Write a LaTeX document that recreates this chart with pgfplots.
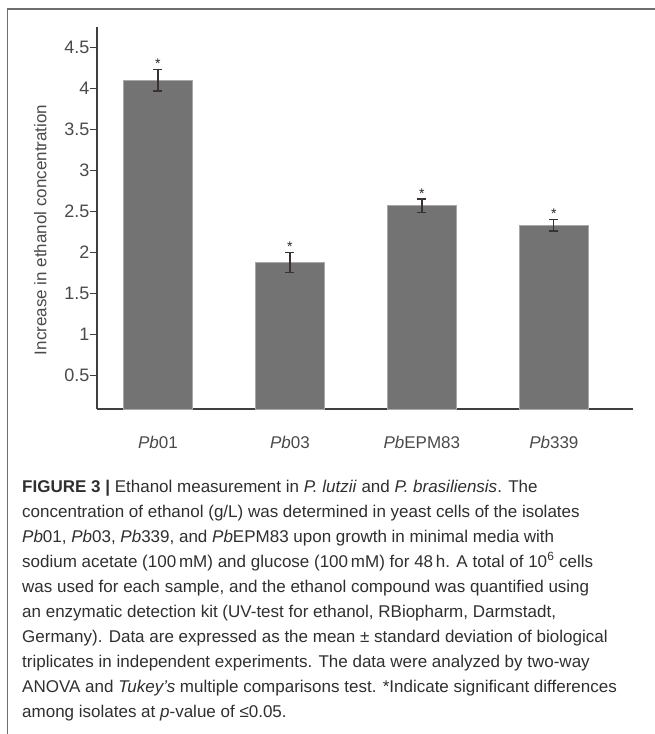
\documentclass[border=0pt]{standalone}
\usepackage{fontspec}
\setmainfont{Liberation Sans}
\usepackage{pgfplots}
\pgfplotsset{compat=1.18}
\definecolor{barfill}{HTML}{737373}
\definecolor{baredge}{HTML}{A8A8A8}
\definecolor{axgray}{HTML}{3F3F3F}
\definecolor{lblgray}{HTML}{4A4A4A}
\definecolor{errcol}{HTML}{3A3232}
\definecolor{framegray}{HTML}{6E6E6E}
\definecolor{captext}{HTML}{2F2F2F}
\begin{document}
\begin{tikzpicture}[x=1bp,y=1bp]
\useasboundingbox (0,0) rectangle (655,-734);
\draw[framegray, line width=1.3bp] (7.5,-734) -- (7.5,-9) -- (655,-9);
\begin{axis}[
  at={(97bp,-409bp)}, anchor=south west,
  scale only axis, width=536bp, height=382bp,
  xmin=-0.462, xmax=3.6, ymin=0.09, ymax=4.75,
  enlargelimits=false, clip=false,
  axis x line=bottom, axis y line=left,
  axis line style={-, axgray, line width=1.1bp},
  xtick={0,1,2,3},
  xticklabels={{\itshape Pb}01,{\itshape Pb}03,{\itshape Pb}EPM83,{\itshape Pb}339},
  x tick style={draw=none},
  xticklabel style={anchor=base, yshift=-32bp, font=\fontsize{17bp}{20bp}\selectfont, text=lblgray},
  ytick={0.5,1,1.5,2,2.5,3,3.5,4,4.5},
  yticklabels={0.5,1,1.5,2,2.5,3,3.5,4,4.5},
  y tick style={axgray, line width=0.9bp},
  tick align=outside, major tick length=7bp,
  yticklabel style={font=\fontsize{18bp}{20bp}\selectfont, text=lblgray, inner xsep=0.5bp},
  /pgf/number format/assume math mode=true,
  ylabel={Increase in ethanol concentration},
  ylabel style={at={(axis description cs:-0.106,0.469)}, anchor=center, font=\fontsize{17bp}{20bp}\selectfont, text=lblgray},
]
\addplot[ybar, bar width=69bp, fill=barfill, draw=baredge, line width=0.8bp,
  error bars/.cd, y dir=both, y explicit,
  error bar style={errcol, line width=1.3bp},
  error mark options={rotate=90, mark size=4.5bp, errcol, line width=1.3bp}]
  table[x=x, y=y, y error=e] {
x y e
0 4.10 0.13
1 1.875 0.12
2 2.57 0.08
3 2.33 0.07
};
\addplot[draw=none, mark=none, nodes near coords={*},
  every node near coord/.style={anchor=base, yshift=1bp, inner sep=0pt, font=\fontsize{14bp}{14bp}\selectfont, text=black!85}]
  coordinates {(0,4.235) (1,1.995) (2,2.646) (3,2.406)};
\end{axis}
\begin{scope}[every node/.style={anchor=base west, inner sep=0pt, text=captext, font=\fontsize{17bp}{20bp}\selectfont}]
\node at (22,-492) {\textbf{FIGURE 3 |} Ethanol measurement in \textit{P. lutzii} and \textit{P. brasiliensis}. The};
\node at (22,-517) {concentration of ethanol (g/L) was determined in yeast cells of the isolates};
\node at (22,-542) {\textit{Pb}01, \textit{Pb}03, \textit{Pb}339, and \textit{Pb}EPM83 upon growth in minimal media with};
\node at (22,-567) {sodium acetate (100\,mM) and glucose (100\,mM) for 48\,h. A total of 10\textsuperscript{6} cells};
\node at (22,-592) {was used for each sample, and the ethanol compound was quantified using};
\node at (22,-617) {an enzymatic detection kit (UV-test for ethanol, RBiopharm, Darmstadt,};
\node at (22,-642) {Germany). Data are expressed as the mean ± standard deviation of biological};
\node at (22,-667) {triplicates in independent experiments. The data were analyzed by two-way};
\node at (22,-692) {ANOVA and \textit{Tukey’s} multiple comparisons test. *Indicate significant differences};
\node at (22,-717) {among isolates at \textit{p}-value of ≤0.05.};
\end{scope}
\end{tikzpicture}
\end{document}
